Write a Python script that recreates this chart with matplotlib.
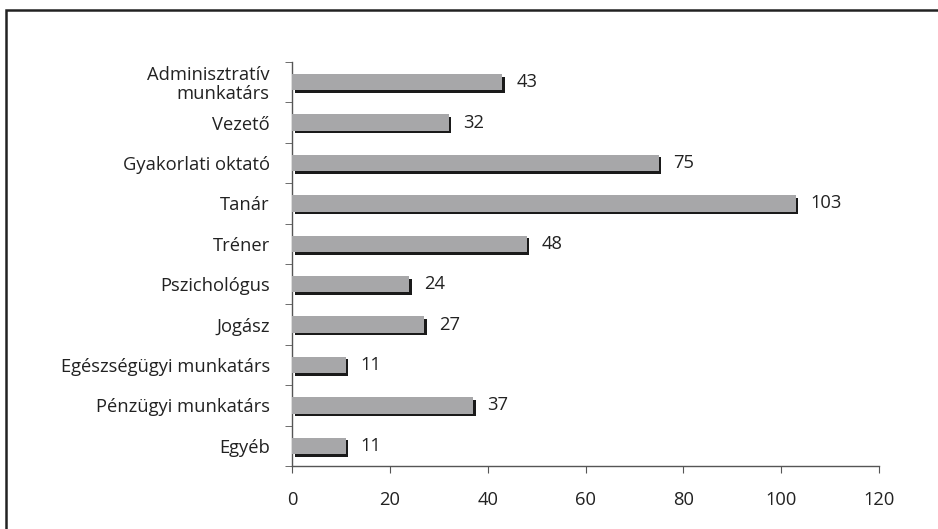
import matplotlib.pyplot as plt
import matplotlib.transforms as mtransforms
from matplotlib.patches import Rectangle
import numpy as np

plt.rcParams['font.family'] = ['Open Sans', 'DejaVu Sans']

categories = ['Adminisztratív\nmunkatárs', 'Vezető', 'Gyakorlati oktató', 'Tanár',
              'Tréner', 'Pszichológus', 'Jogász', 'Egészségügyi munkatárs',
              'Pénzügyi munkatárs', 'Egyéb']
values = [43, 32, 75, 103, 48, 24, 27, 11, 37, 11]
xticks = [0, 20, 40, 60, 80, 100, 120]

fs = 13.2

fig = plt.figure(figsize=(9.38, 5.29), dpi=100)
ax = fig.add_axes([292/938, 1-466/529, (879-292)/938, (466-62)/529])

y = np.arange(len(categories))[::-1]
h = 0.41

# dark drop shadow behind each bar
shadow = ax.transData + mtransforms.ScaledTranslation(2.6/100, -2.6/100, fig.dpi_scale_trans)
ax.barh(y, values, height=h, color='#1a1a1a', transform=shadow, zorder=2)
ax.barh(y, values, height=h, color='#a7a7a9', zorder=3)

for yi, v in zip(y, values):
    ax.annotate(str(v), (v, yi), xytext=(10.5, 0), textcoords='offset points',
                va='center', ha='left', fontsize=fs, color='#222222')

ax.set_xlim(0, 120)
ax.set_ylim(-0.5, len(categories)-0.5)
ax.set_xticks(xticks)
ax.set_yticks(y)
ax.set_yticklabels(categories, fontsize=fs, color='#222222', linespacing=1.05)
ax.set_yticks(np.arange(-0.5, len(categories), 1), minor=True)
ax.tick_params(axis='y', which='major', length=0, pad=16)
ax.tick_params(axis='y', which='minor', length=5, color='#555555', direction='out')
ax.tick_params(axis='x', length=5, color='#555555', labelsize=fs, labelcolor='#222222', pad=13)

for s in ['top', 'right']:
    ax.spines[s].set_visible(False)
for s in ['left', 'bottom']:
    ax.spines[s].set_color('#555555')
    ax.spines[s].set_linewidth(1.0)

fig.patches.append(Rectangle((6/938, -0.1), 1.2, 1.1 - 10/529, transform=fig.transFigure,
                             fill=False, edgecolor='#222222', linewidth=1.8))

fig.savefig('out.png', dpi=100)
